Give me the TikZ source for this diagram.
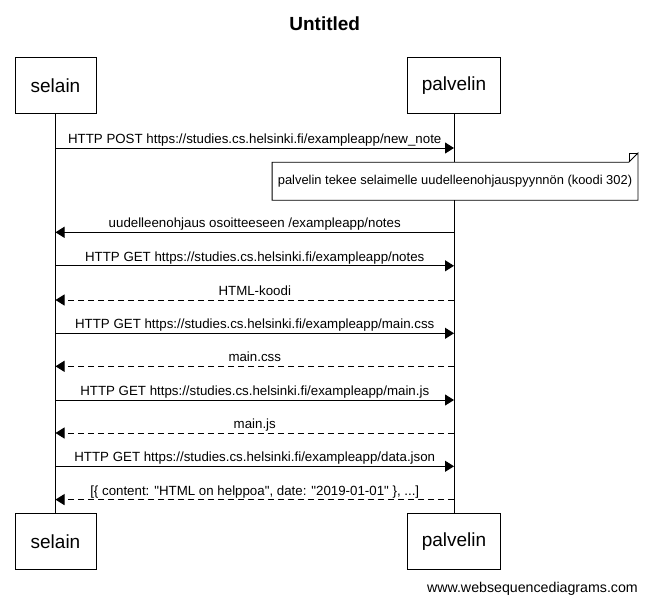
\documentclass[tikz,border=0pt]{standalone}
\usepackage{fontspec}
\setmainfont{Liberation Sans}[Ligatures=TeXOff]
\usetikzlibrary{arrows.meta,calc}
\begin{document}
\begin{tikzpicture}[x=1pt,y=-1pt,
  actor/.style={draw,line width=1pt,minimum width=81pt,minimum height=56pt,inner sep=0pt,font=\fontsize{19}{21}\selectfont},
  actorwide/.style={actor,minimum width=93.4pt},
  lifeline/.style={line width=1pt},
  msg/.style={line width=1pt,-{Triangle[length=9pt,width=11pt]}},
  reply/.style={msg,dash pattern=on 6pt off 4pt},
  lbl/.style={anchor=base,inner sep=0pt,font=\fontsize{13.3}{15}\selectfont},
  notebox/.style={line width=0.8pt}
]
\path[use as bounding box] (0,0) rectangle (647,605);

% title
\node[font=\bfseries\fontsize{19}{21}\selectfont] (title) at (324.7,24) {Untitled};

% participants
\node[actor] (selT) at (55.5,85.8) {selain};
\node[actorwide] (palT) at (454,85.8) {palvelin};
\node[actor] (selB) at (55.5,541.7) {selain};
\node[actorwide] (palB) at (454,541.7) {palvelin};

% lifelines
\draw[lifeline] (selT.south) -- (selB.north);
\draw[lifeline] (palT.south) -- (palB.north);

% message anchor points on the lifelines
\foreach \n/\y in {1/148,2/232.3,3/265.8,4/300,5/333.3,6/366.3,7/400,8/433,9/466.3,10/499.6}{
  \coordinate (s\n) at (selT.south |- 0,\y);
  \coordinate (p\n) at (palT.south |- 0,\y);
}

% messages
\draw[msg] (s1) -- node[lbl,yshift=4.5pt]{HTTP POST https://studies.cs.helsinki.fi/exampleapp/new\_note} (p1);

% note with folded corner
\node[minimum width=365.4pt,minimum height=37.7pt,inner sep=0pt,fill=white,font=\fontsize{12.9}{15}\selectfont] (note) at (455,181.2)
  {palvelin tekee selaimelle uudelleenohjauspyynnön (koodi 302)};
\draw[notebox] (note.north west) -- ([xshift=-9pt]note.north east) -- ([yshift=9pt]note.north east)
  -- (note.south east) -- (note.south west) -- cycle;
\draw[notebox] ([xshift=-9pt]note.north east) -- ([xshift=-9pt,yshift=9pt]note.north east) -- ([yshift=9pt]note.north east);

\draw[msg] (p2) -- node[lbl,yshift=4.5pt]{uudelleenohjaus osoitteeseen /exampleapp/notes} (s2);
\draw[msg] (s3) -- node[lbl,yshift=4.5pt]{HTTP GET https://studies.cs.helsinki.fi/exampleapp/notes} (p3);
\draw[reply] (p4) -- node[lbl,yshift=4.5pt]{HTML-koodi} (s4);
\draw[msg] (s5) -- node[lbl,yshift=4.5pt]{HTTP GET https://studies.cs.helsinki.fi/exampleapp/main.css} (p5);
\draw[reply] (p6) -- node[lbl,yshift=4.5pt]{main.css} (s6);
\draw[msg] (s7) -- node[lbl,yshift=4.5pt]{HTTP GET https://studies.cs.helsinki.fi/exampleapp/main.js} (p7);
\draw[reply] (p8) -- node[lbl,yshift=4.5pt]{main.js} (s8);
\draw[msg] (s9) -- node[lbl,yshift=4.5pt]{HTTP GET https://studies.cs.helsinki.fi/exampleapp/data.json} (p9);
\draw[reply] (p10) -- node[lbl,yshift=4.5pt]{[\{ content: "HTML on helppoa", date: "2019-01-01" \}, ...]} (s10);

% footer
\node[anchor=east,inner sep=0pt,font=\fontsize{14.2}{16}\selectfont] (footer) at (638,589) {www.websequencediagrams.com};
\end{tikzpicture}
\end{document}
